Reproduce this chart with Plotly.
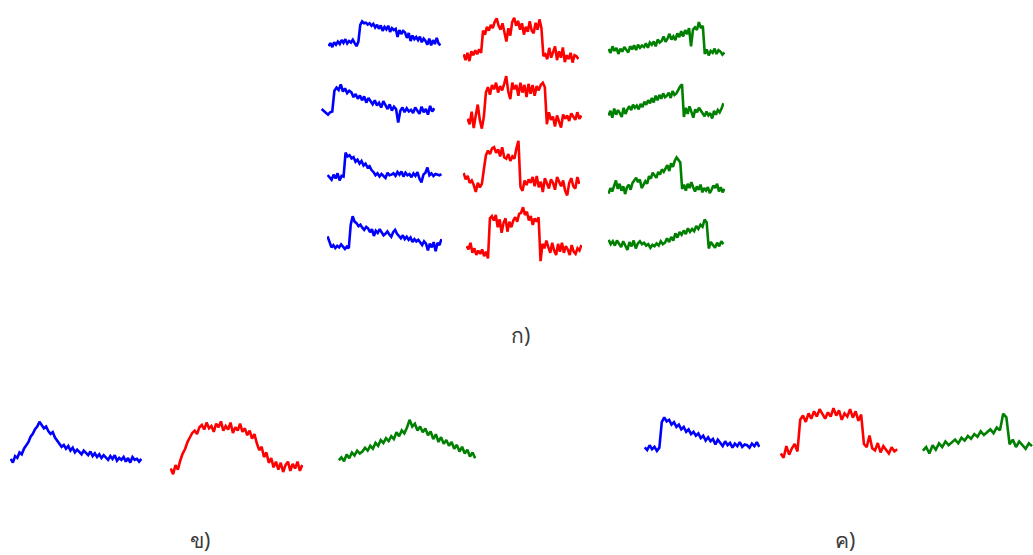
import plotly.graph_objects as go

# ---------------- data (signal amplitude, 0-10 scale) ----------------
a1_blue = [1.5,2.5,1.2,2.8,2,3,2.2,3.5,2.6,3.8,2.4,3.2,2.7,3.6,2.5,1.5,3,
           8.5,9.6,9,9.2,8.6,9,8.2,8.8,7.6,8.5,7.2,8.3,6.5,7.8,7,8.2,6.2,7.4,6.8,7.2,4.5,6.8,5.5,
           6.5,6,4.2,5.8,3.2,5,3.8,4.5,3.5,4.6,2.8,4,3.2,2,4,1.8,3.5,2.2,4.2,2.4,1.8]
a1_red = [2.2,1,2.5,0.8,2.8,2,3,2.2,3.2,2.5,
          7,6.2,7.8,7,8.2,7.5,8.8,9.5,8,7.2,8.5,6.5,4.8,7.5,6,8.8,9.6,8,9,7.2,8.5,6.2,7.8,6.8,8.9,7,6.5,8.6,7.2,9.3,7.5,
          1.8,2.2,1.2,3.5,1.5,2.5,3.8,1,2.8,1.5,3.6,0.6,2,1.2,2.5,0.5,2,1.8,1.2]
a1_green = [2.5,1.5,3.2,2,2.8,1.2,2.6,1.8,3,2.2,1.6,3.2,2.4,3.5,2.2,3.6,2.8,3.4,3,4,2.8,4.2,3.6,4.5,3.2,
            5,4.2,4.6,5.8,4.4,5.2,6.5,5,5.8,4.8,6.6,5.6,7.2,5.8,7.5,6.4,8,3.2,7.6,8.2,7.5,9.6,8,8.6,
            1.2,2.4,0.8,2,1.5,2.6,1.2,2.2,1.8,1,1.6]
a2_blue = [3.6,3.2,2.6,2.2,2.8,3,
           8.2,9,8.4,9.8,8,8.8,7.6,8.2,7.8,6.6,7.4,6.2,7,5.8,6.8,5.2,6.4,5.6,4.8,5.8,4.5,5.2,4,5.6,4.4,
           3.6,4.8,3.2,4.2,3.6,0.2,3.2,4,2.8,3.8,3,3.4,2.6,4,3.2,2.4,4.2,2.8,3.6,2.2,4.4,3,3.8]
a2_red = [2.2,1.2,3.5,0.5,2.8,4.8,2,0.4,2.6,
          7,8,6.6,8.4,7.6,8.8,7,8.2,7.4,8.6,10,7.2,5.8,8.8,7.6,8.4,6.4,8.8,7,8.4,6.2,8.6,6.8,8.4,6.4,8.2,7.4,8.4,8.8,8,
          1.2,3.4,2,2.6,0.8,2.8,1.6,0.6,3,2.2,2.8,1.8,3.2,2.6,2,3.4,2.2,2.8]
a2_green = [1.6,2.8,1,3.4,1.8,3,2.2,1.2,3.6,2,3.2,4,3,4.4,3.6,4.2,3.2,4.6,3.8,5.2,4.4,5.6,4.8,6.2,5,6.8,5.6,7,6,7.4,
            6.4,6.8,7.6,6.2,8,7,7.4,8.4,9.2,9.8,
            1.2,3.6,2,4,2.6,1,3.2,2.4,3.6,2.8,2,1.4,2.6,1.6,2.2,0.8,2.8,1.8,3,2.4,3.4,4.8]
a3_blue = [2.7,2,1.2,2.8,1.6,3.2,1,2.4,2.2,
           9.6,8.4,8.8,7.8,8.2,6.8,7.4,6.2,7,5.6,6.2,5,5.4,4.2,3.6,
           2.6,3.2,2.2,3,2.4,1.8,3.4,2.6,2.8,3.2,2.4,3.6,2.8,3.8,2.2,3.4,2.6,3,2,3.2,2.4,3.6,1.6,0.4,
           2.8,3.4,5,2.6,3.2,2.4,3,2.8,2.6,3]
a3_red = [4.3,3.2,3.8,2.6,3,2.2,1,2.6,1.8,2.4,
          5,7.4,8.2,7.6,8.6,8.8,7.8,8.4,7.2,8.8,7,6.8,7.6,6.4,7.2,6.8,8.6,9.9,
          1.9,1.2,3,2.2,3.2,2.6,3.6,2,3.8,1.8,2.8,1,3.4,2.4,1.6,3.2,2.6,1.4,3.6,2.8,2,3,1.2,0.4,2.6,3.4,2,1.6,3.6,2.4]
a3_green = [1.1,2.4,1.6,3,4.2,2.2,3.4,1.8,2.8,1,2.6,3.2,2,3.6,4.2,4.8,3.8,4.4,2.4,3.2,4,3.4,5.2,4.6,6,5.4,4.8,
            6.2,5.6,6.8,6.2,7,7.8,6.4,8.2,7.4,8.8,9.6,9,8.4,
            2.2,3.2,1.8,3.4,2.4,3.8,2.6,1.6,2.8,2,3.2,1.4,2.4,1.8,2.6,1.2,2,3,2.4,3.4,1.6,2.6,1.4,2.2]
a4_blue = [4.5,3,1.6,2.2,1.4,2,1.6,2.4,1.8,1.2,1.8,1.4,
           7.6,9.8,8.4,8,7.2,7.6,6.8,6.2,7,6.6,5.6,6.4,4.6,6,5.4,6.4,5.6,4.8,5.2,5.8,5,4.4,5.6,6.2,5.2,4.6,
           4,4.8,3.8,4.4,3.6,4.2,3,3.8,3.2,3.6,2.8,2.2,3.2,2.6,0.8,2.6,1.6,3,0.6,2.8,2.2,3.8]
a4_red = [3,2.4,3.6,1.8,2.6,1.4,2.2,1.6,2.4,1.2,2,0.8,
          8,8.4,7.6,8.6,6.4,7.8,5.4,7.2,8,5.6,7.4,6.4,7.6,8.2,7.4,8.8,9,10,8.6,9.2,7.6,8.4,6.8,8,7.4,8.2,
          0.3,3.4,2.6,4,2.8,1.8,3.6,2.2,1.4,3.4,2,3.6,1.8,3,2.4,1.4,3.2,2,1.6,2.6,2.2,3.2]
a4_green = [3.8,2.6,3.4,2.2,3.6,2.8,1.8,3.4,2.2,1,3.2,2,3.6,1.4,2.8,3.4,2.6,3,2.2,2.6,1.6,2.4,2,2.8,2.2,3.4,
            2.6,3,4.2,3.2,4.6,3.6,
            5.6,4.4,6,5.2,6.4,5.4,7,6,6.8,6.2,7.6,6.8,8,7.4,9.4,8.6,
            1.4,3.2,2.4,1.6,3,2,3.4,2.6]
b_blue = [2,1.2,2.6,2.2,3.4,3,4.2,5,5.6,6.8,7.4,8.4,9,10,9.2,8.6,9,8,7.4,7.8,6.6,6,5.2,4.6,5,4.2,4.8,3.8,4.4,
          3.4,4,3.6,3,3.8,3.2,2.8,3.6,2.6,3.2,2.4,3,2.2,2.8,2.4,1.8,2.6,2,2.8,1.6,2.2,1.8,2.4,1.4,2.2,1.2,2.4,
          1.8,2,1.4,2]
b_red = [1.6,0.6,2.2,1.4,3,4.2,5,6.2,7,7.8,8.2,7.6,8.8,9.2,8.4,9.6,8.6,9,8,9.4,8.8,9.8,8.2,9,8.4,9.6,7.8,8.8,
         8.2,9.4,8,8.6,7.4,8.2,6.8,7.6,6,4.8,5.4,3.6,4.4,2.6,3.4,1.8,2.8,1.4,2.6,1,2.2,2.8,1.2,2.4,1.6,2.8,1.2,2.2]
b_green = [1,1.6,0.8,2.2,1.4,2.6,2,3,2.4,2.8,3.6,3,4,3.4,4.6,4,5.2,4.6,5.6,5,6,5.4,6.8,6,7.2,6.6,7.8,9.4,8,
           8.6,7.2,8,6.8,7.6,6.2,7,5.4,6.4,4.8,5.8,4.4,5.2,4,4.8,3.4,4.2,2.8,3.8,2.4,3.2,1.8,2.6,1.4]
c_blue = [2.3,1.6,2.8,1.8,2.4,1.4,2.2,8.6,9.8,8.8,9.2,8,8.6,7.4,8,6.8,7.4,6.2,6.8,5.6,6.2,5.2,5.8,4.6,5.2,4,
          4.8,3.8,4.4,3,4.2,3.4,2.6,3.8,2.8,3.4,2.2,3.2,2.6,3.6,2.4,3,2.8,2.2,3.2,2.6,3.6,2.4]
c_red = [1.2,0.4,2.6,1,2.2,3,1.6,7.6,8.4,7.2,8.8,7.8,9.2,8.2,9.6,8.6,7.8,9,8.2,9.8,8.4,9.4,7.6,8.8,8.2,9.6,8,
         9.2,7.4,8.6,3,2.4,4.6,2.2,1.8,3.2,1.4,2.6,2,1.2,2.4,1.6,2]
c_green = [1.6,2.4,1,2.8,1.8,3.2,2.4,3.6,2.8,3.4,4,3.2,4.4,3.8,4.8,4.2,5.2,4.6,5.8,5,5.6,6.2,5.4,6.6,6,9.6,
           8.8,3,4,2.4,3.6,2.8,2,3.2,2.6]

panel_labels = ["ก)", "ข)", "ค)"]

# ---------------- layout (pixel boxes: x0, x1, y0, y1) ----------------
W, H = 1033, 555
BLUE, RED, GREEN = "#0000ff", "#ff0000", "#008000"
specs = [
    (a1_blue, BLUE, (328, 441, 19, 52)), (a1_red, RED, (463, 579, 14, 67)), (a1_green, GREEN, (608, 725, 19, 60)),
    (a2_blue, BLUE, (321, 435, 82, 125)), (a2_red, RED, (467, 582, 74, 133)), (a2_green, GREEN, (608, 724, 82, 123)),
    (a3_blue, BLUE, (327, 442, 150, 185)), (a3_red, RED, (463, 580, 138, 200)), (a3_green, GREEN, (608, 725, 154, 200)),
    (a4_blue, BLUE, (327, 442, 214, 255)), (a4_red, RED, (466, 582, 205, 265)), (a4_green, GREEN, (608, 724, 216, 255)),
    (b_blue, BLUE, (10, 142, 420, 470)), (b_red, RED, (170, 303, 418, 480)), (b_green, GREEN, (338, 476, 415, 467)),
    (c_blue, BLUE, (644, 760, 415, 458)), (c_red, RED, (780, 898, 405, 462)), (c_green, GREEN, (922, 1033, 410, 460)),
]
label_pos = [(520, 335), (200, 540), (845, 540)]

fig = go.Figure()
layout_axes = {}
for i, (vals, color, (x0, x1, y0, y1)) in enumerate(specs, start=1):
    xa = "x" if i == 1 else f"x{i}"
    ya = "y" if i == 1 else f"y{i}"
    fig.add_trace(go.Scatter(x=list(range(len(vals))), y=vals, mode="lines",
                             line=dict(color=color, width=2.6), xaxis=xa, yaxis=ya,
                             hoverinfo="skip", showlegend=False))
    kx = "xaxis" if i == 1 else f"xaxis{i}"
    ky = "yaxis" if i == 1 else f"yaxis{i}"
    layout_axes[kx] = dict(domain=[x0 / W, min(x1 / W, 1.0)], range=[-0.3, len(vals) - 0.7],
                           visible=False, anchor=ya)
    layout_axes[ky] = dict(domain=[1 - y1 / H, 1 - y0 / H], range=[-0.4, 10.4],
                           visible=False, anchor=xa)

fig.update_layout(**layout_axes)
for txt, (px, py) in zip(panel_labels, label_pos):
    fig.add_annotation(text=txt, x=px / W, y=1 - py / H, xref="paper", yref="paper",
                       showarrow=False, xanchor="center", yanchor="middle",
                       font=dict(size=21, color="#3a3a3a", family="Noto Sans, DejaVu Sans, sans-serif"))

fig.update_layout(width=W, height=H, autosize=False, margin=dict(l=0, r=0, t=0, b=0),
                  paper_bgcolor="white", plot_bgcolor="white")
fig.write_html("out.html")
